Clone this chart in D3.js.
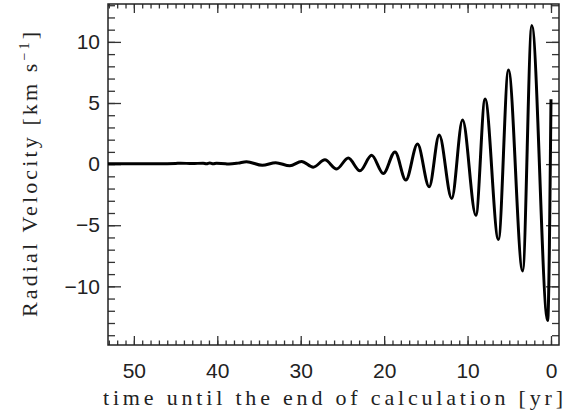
<!DOCTYPE html>
<html>
<head>
<meta charset="utf-8">
<script src="https://cdn.jsdelivr.net/npm/d3@7"></script>
<style>
  body { margin: 0; background: #fff; }
  svg { display: block; }
  .tick text { font-family: "Liberation Sans", sans-serif; font-size: 21px; fill: #222; }
  .tick line { stroke: #333; stroke-width: 1.3; }
</style>
</head>
<body>
<div id="app"></div>
<script>
// time until end of calculation (yr) and radial velocity (km/s)
var times = [53.1, 50, 47, 45, 44.4, 43, 41.7, 41.3, 40.9, 40.5, 40.1, 39, 38.6, 37.5, 36.5,
  34.6, 33.0, 31.3, 29.9, 28.5, 27.1, 25.7, 24.3, 22.9, 21.5, 20.1, 18.7, 17.4,
  16.0, 14.6, 13.4, 11.9, 10.6, 9.0, 7.9, 6.3, 5.1, 3.4, 2.3, 0.4, 0.0];
var velocity = [0.03, 0.03, 0.02, 0.05, 0.08, 0.04, 0.08, 0.02, 0.09, 0.02, 0.07, 0.03, 0.0, 0.08, 0.2,
  -0.1, 0.12, -0.14, 0.22, -0.25, 0.35, -0.4, 0.5, -0.55, 0.72, -0.77, 1.0, -1.31,
  1.64, -1.86, 2.38, -2.81, 3.6, -4.18, 5.33, -6.17, 7.7, -8.74, 11.34, -12.8, 5.3];

var xMajor = [50, 40, 30, 20, 10, 0];
var yMajor = [-10, -5, 0, 5, 10];
var xMinor = d3.range(53, -1, -1);
var yMinor = d3.range(-14, 14, 1);

var W = 576, H = 415;
var pLeft = 108, pRight = 559, pTop = 4, pBottom = 345;

var svg = d3.select('#app').append('svg').attr('width', W).attr('height', H);

var x = d3.scaleLinear().domain([53.1, -0.96]).range([pLeft, pRight]);
var y = d3.scaleLinear().domain([-14.8, 13.1]).range([pBottom, pTop]);

// minor ticks first, then majors with labels
function axisGroup(axis, tx, ty) {
  var g = svg.append('g').attr('transform', 'translate(' + tx + ',' + ty + ')').call(axis);
  g.select('.domain').remove();
  return g;
}
axisGroup(d3.axisBottom(x).tickValues(xMinor).tickSize(-4.5).tickFormat(''), 0, pBottom);
axisGroup(d3.axisTop(x).tickValues(xMinor).tickSize(-4.5).tickFormat(''), 0, pTop);
axisGroup(d3.axisLeft(y).tickValues(yMinor).tickSize(-7).tickFormat(''), pLeft, 0);
axisGroup(d3.axisRight(y).tickValues(yMinor).tickSize(-7).tickFormat(''), pRight, 0);

axisGroup(d3.axisBottom(x).tickValues(xMajor).tickSize(-9).tickPadding(18).tickFormat(d3.format('d')), 0, pBottom);
axisGroup(d3.axisTop(x).tickValues(xMajor).tickSize(-9).tickFormat(''), 0, pTop);
axisGroup(d3.axisLeft(y).tickValues(yMajor).tickSize(-13).tickPadding(8).tickFormat(d3.format('d')), pLeft, 0);
axisGroup(d3.axisRight(y).tickValues(yMajor).tickSize(-13).tickFormat(''), pRight, 0);

// frame
svg.append('rect').attr('x', pLeft).attr('y', pTop)
  .attr('width', pRight - pLeft).attr('height', pBottom - pTop)
  .attr('fill', 'none').attr('stroke', '#222').attr('stroke-width', 1.5);

// the curve
var pts = times.map(function(t, i) { return [t, velocity[i]]; });
var line = d3.line().x(function(d) { return x(d[0]); }).y(function(d) { return y(d[1]); })
  .curve(d3.curveMonotoneX);
svg.append('path').datum(pts).attr('d', line)
  .attr('fill', 'none').attr('stroke', '#000').attr('stroke-width', 3)
  .attr('stroke-linejoin', 'round');

// axis titles
svg.append('text').attr('x', 333).attr('y', 405).attr('text-anchor', 'middle')
  .attr('font-family', '"Liberation Serif", serif').attr('font-size', 22).attr('fill', '#222')
  .attr('textLength', 460).attr('lengthAdjust', 'spacing')
  .text('time until the end of calculation [yr]');

var yt = svg.append('text').attr('transform', 'translate(37,174.5) rotate(-90)')
  .attr('text-anchor', 'middle')
  .attr('font-family', '"Liberation Serif", serif').attr('font-size', 22).attr('fill', '#222')
  .attr('textLength', 285).attr('lengthAdjust', 'spacing');
yt.append('tspan').text('Radial Velocity [km s');
yt.append('tspan').attr('dy', -8).attr('font-size', 14).text('\u22121');
yt.append('tspan').attr('dy', 8).text(']');
</script>
</body>
</html>
